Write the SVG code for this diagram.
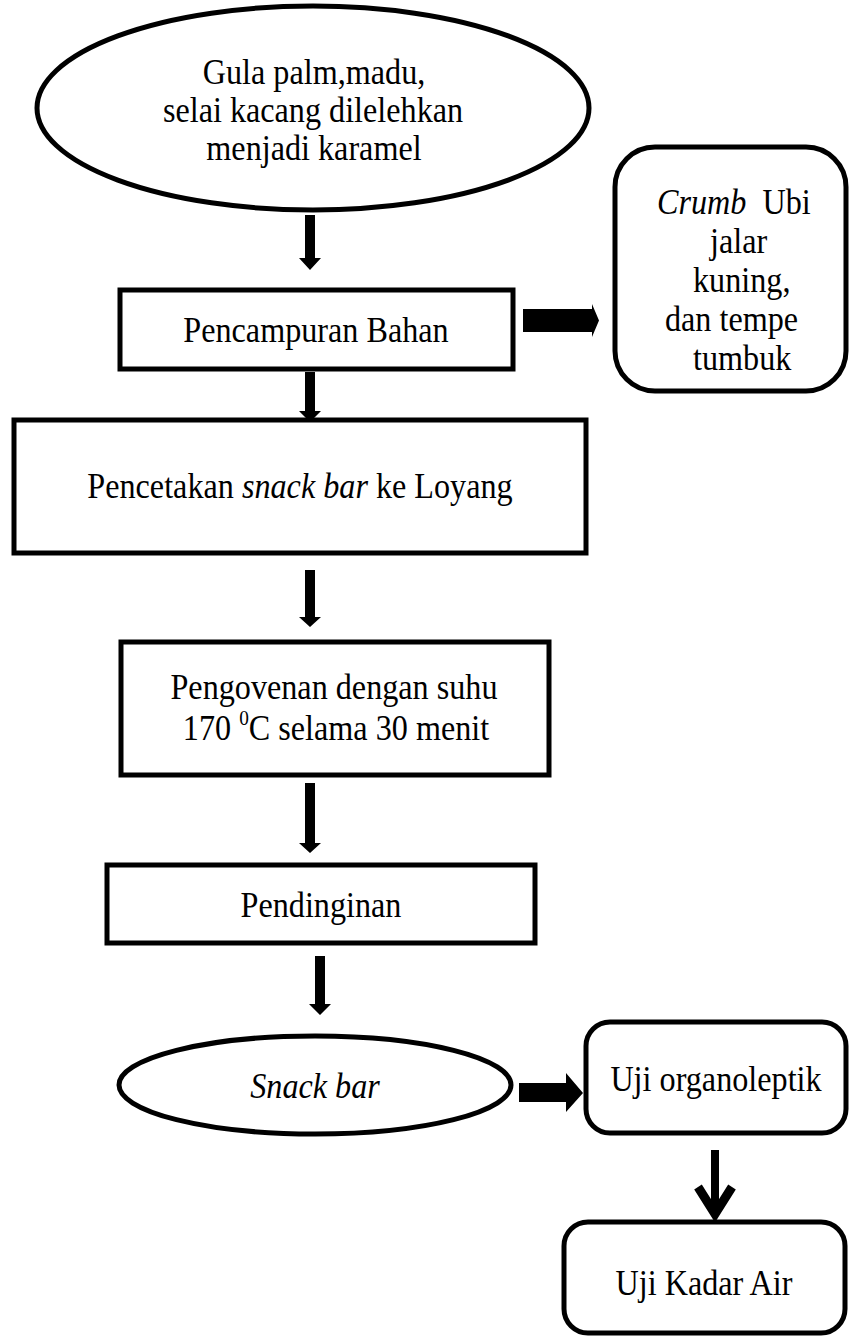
<svg xmlns="http://www.w3.org/2000/svg" width="850" height="1337" viewBox="0 0 850 1337">
<style>
.box{fill:#fff;stroke:#000;stroke-width:5}
.t{font-family:"Liberation Serif","Times New Roman",serif;font-size:35px;fill:#000}
.c{text-anchor:middle}
.i{font-style:italic}
.arr{fill:#000}
</style>
<rect width="850" height="1337" fill="#fff"/>
<g id="connectors">
  <polygon class="arr" points="305,215 315,215 315,258 321,258 310,270 299,258 305,258"/>
  <polygon class="arr" points="305,372 315,372 315,411 321,411 310,422 299,411 305,411"/>
  <polygon class="arr" points="305,570 315,570 315,617 321,617 310,627 299,617 305,617"/>
  <polygon class="arr" points="305,783 315,783 315,843 321,843 310,853 299,843 305,843"/>
  <polygon class="arr" points="315,956 325,956 325,1004 331,1004 320,1015 309,1004 315,1004"/>
  <polygon class="arr" points="523,309 592,309 592,304 599,320.5 592,337 592,332 523,332"/>
  <polygon class="arr" points="519,1083 566,1083 566,1073 583,1093 566,1112 566,1102 519,1102"/>
  <line x1="715" y1="1150" x2="715" y2="1210" stroke="#000" stroke-width="8"/>
  <polyline points="698,1187 715,1214 732,1187" fill="none" stroke="#000" stroke-width="9"/>
</g>
<g id="n-karamel">
  <ellipse class="box" cx="313" cy="108" rx="276" ry="102"/>
  <text class="t c" transform="translate(314,84) scale(0.92,1)">Gula palm,madu,</text>
  <text class="t c" transform="translate(313,122) scale(0.92,1)">selai kacang dilelehkan</text>
  <text class="t c" transform="translate(314,160) scale(0.92,1)">menjadi karamel</text>
</g>
<g id="n-crumb">
  <rect class="box" x="615" y="147" width="231" height="244" rx="40"/>
  <text class="t" xml:space="preserve" transform="translate(657,214) scale(0.92,1)"><tspan class="i">Crumb</tspan>  Ubi</text>
  <text class="t" transform="translate(710,253) scale(0.92,1)">jalar</text>
  <text class="t" transform="translate(693,292) scale(0.92,1)">kuning,</text>
  <text class="t" transform="translate(665,331) scale(0.92,1)">dan tempe</text>
  <text class="t" transform="translate(693,370) scale(0.92,1)">tumbuk</text>
</g>
<g id="n-pencampuran">
  <rect class="box" x="120" y="290" width="393" height="79"/>
  <text class="t c" transform="translate(316,342) scale(0.92,1)">Pencampuran Bahan</text>
</g>
<g id="n-pencetakan">
  <rect class="box" x="14" y="420" width="572" height="133"/>
  <text class="t c" transform="translate(300,498) scale(0.92,1)">Pencetakan <tspan class="i">snack bar</tspan> ke Loyang</text>
</g>
<g id="n-pengovenan">
  <rect class="box" x="121" y="642" width="428" height="133"/>
  <text class="t c" transform="translate(334,699) scale(0.92,1)">Pengovenan dengan suhu</text>
  <text class="t c" transform="translate(336,740) scale(0.92,1)">170 <tspan font-size="21" dy="-15">0</tspan><tspan dy="15">C selama 30 menit</tspan></text>
</g>
<g id="n-pendinginan">
  <rect class="box" x="107" y="865" width="428" height="78"/>
  <text class="t c" transform="translate(321,917) scale(0.92,1)">Pendinginan</text>
</g>
<g id="n-snackbar">
  <ellipse class="box" cx="315" cy="1085" rx="196" ry="49"/>
  <text class="t c i" transform="translate(315,1098) scale(0.92,1)">Snack bar</text>
</g>
<g id="n-organoleptik">
  <rect class="box" x="586" y="1022" width="260" height="111" rx="24"/>
  <text class="t c" transform="translate(716,1091) scale(0.92,1)">Uji organoleptik</text>
</g>
<g id="n-kadarair">
  <rect class="box" x="564" y="1222" width="281" height="111" rx="24"/>
  <text class="t c" transform="translate(704,1295) scale(0.92,1)">Uji Kadar Air</text>
</g>
</svg>
